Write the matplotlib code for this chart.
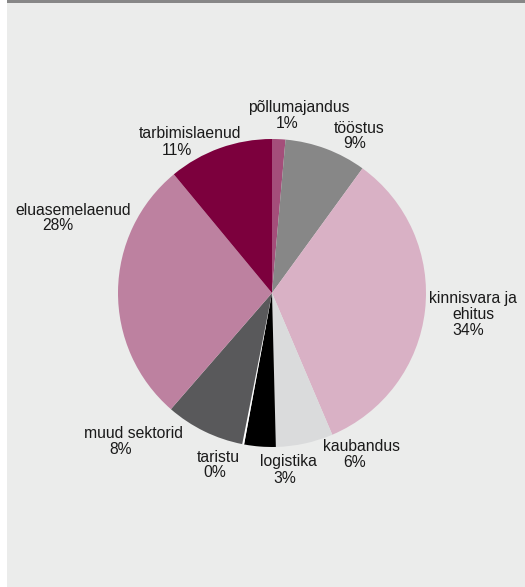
import matplotlib
matplotlib.use("Agg")
import matplotlib.pyplot as plt
from matplotlib.patches import Rectangle

plt.rcParams['font.family'] = ['Liberation Sans', 'DejaVu Sans']

# ---- data ----
categories = ["põllumajandus", "tööstus", "kinnisvara ja\nehitus", "kaubandus",
              "logistika", "taristu", "muud sektorid", "eluasemelaenud", "tarbimislaenud"]
shares = [1.4, 8.6, 33.6, 6.0, 3.3, 0.2, 8.3, 27.6, 11.0]
pct_labels = ["1%", "9%", "34%", "6%", "3%", "0%", "8%", "28%", "11%"]
colors = ["#a44e7a", "#878787", "#d9b1c5", "#dadbdc", "#000000",
          "#ffffff", "#59595b", "#bd81a0", "#7c003d"]

# ---- layout (pixel positions of label names / percentages) ----
W, H = 525, 587
cx, cy, R = 272, 293, 154
name_pos = [(299, 112), (359, 133), (473, 303), (362, 451), (288, 466),
            (218, 462), (133, 438), (73, 215), (190, 138)]
pct_pos = [(287, 128), (355, 148), (468, 335), (355, 467), (285, 483),
           (215, 477), (121, 454), (58, 230), (177, 155)]

fig = plt.figure(figsize=(W / 100, H / 100), dpi=100)
fig.patch.set_facecolor("white")
fig.add_artist(Rectangle((7 / W, 0), 1 - 7 / W, 1, transform=fig.transFigure,
                         facecolor="#ebeceb", edgecolor="none", zorder=0))
fig.add_artist(Rectangle((7 / W, 1 - 3 / H), 1 - 7 / W, 3 / H, transform=fig.transFigure,
                         facecolor="#878787", edgecolor="none", zorder=1))

ax = fig.add_axes([(cx - R) / W, (H - cy - R) / H, 2 * R / W, 2 * R / H])
ax.set_facecolor("none")
ax.pie(shares, colors=colors, startangle=90, counterclock=False, radius=1,
       wedgeprops=dict(edgecolor="none", linewidth=0))
ax.set_xlim(-1, 1)
ax.set_ylim(-1, 1)
ax.set_aspect("auto")
ax.axis("off")

def to_data(p):
    return ((p[0] - cx) / R, (cy - p[1]) / R)

fs = 11.3
for name, pct, npos, ppos in zip(categories, pct_labels, name_pos, pct_pos):
    lines = name.split("\n")
    for i, line in enumerate(lines):
        x, y = to_data((npos[0] + (4 if i else 0) * 0, npos[1] + 16 * i))
        ax.text(x, y, line, ha="center", va="baseline", fontsize=fs,
                color="#1a1a1a", clip_on=False)
    x, y = to_data(ppos)
    ax.text(x, y, pct, ha="center", va="baseline", fontsize=fs,
            color="#1a1a1a", clip_on=False)

fig.savefig("out.png", dpi=100, facecolor=fig.get_facecolor())
